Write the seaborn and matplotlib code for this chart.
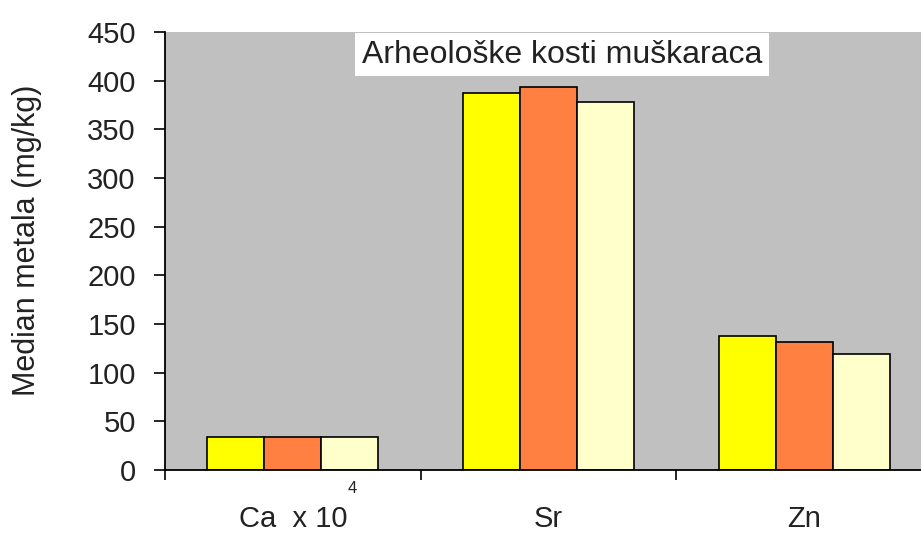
import pandas as pd
import matplotlib.pyplot as plt
import seaborn as sns

# data
categories = ['Ca  x 10', 'Sr', 'Zn']
series_names = ['Serija 1', 'Serija 2', 'Serija 3']
serija_1 = [34, 387, 138]
serija_2 = [34, 393, 131]
serija_3 = [34, 378, 119]
y_ticks = [0, 50, 100, 150, 200, 250, 300, 350, 400, 450]

df = pd.DataFrame({
    'metal': categories * 3,
    'serija': [s for s in series_names for _ in categories],
    'value': serija_1 + serija_2 + serija_3,
})

sns.set_theme(style="white")
plt.rcParams['font.family'] = ['Liberation Sans', 'DejaVu Sans']

fig = plt.figure(figsize=(9.21, 5.34), dpi=100)
ax = fig.add_axes([165 / 921, 64 / 534, 767 / 921, 438 / 534])
ax.set_facecolor('#c0c0c0')

sns.barplot(data=df, x='metal', y='value', hue='serija', order=categories,
            hue_order=series_names,
            palette=['#ffff00', '#ff8040', '#ffffcc'], saturation=1,
            width=0.67, gap=0, edgecolor='black', linewidth=1.2,
            legend=False, ax=ax)

ax.set_xlim(-0.5, 2.5)
ax.set_ylim(0, 450)
ax.set_yticks(y_ticks)
ax.set_xlabel('')
ax.set_ylabel('Median metala (mg/kg)', fontsize=22, color='#222222')
ax.yaxis.set_label_coords(-0.16, 0.525)

ax.tick_params(axis='y', direction='out', length=8, width=1.2, color='black',
               labelsize=21, labelcolor='#222222', left=True, pad=13)
ax.tick_params(axis='x', which='major', length=0, labelsize=21,
               labelcolor='#222222', pad=25)
ax.set_xticks([-0.5, 0.5, 1.5, 2.5], minor=True)
ax.tick_params(axis='x', which='minor', direction='out', length=7, width=1.2,
               color='black', bottom=True)

for side in ['top', 'right']:
    ax.spines[side].set_visible(False)
for side in ['left', 'bottom']:
    ax.spines[side].set_color('black')
    ax.spines[side].set_linewidth(1.3)

# superscript exponent of the Ca label
ax.annotate('4', xy=(0, 0), xycoords='data', xytext=(43, -13),
            textcoords='offset points', fontsize=12, color='#222222',
            ha='center', va='center', annotation_clip=False)

ax.text(0.5176, 0.948, 'Arheološke kosti muškaraca', transform=ax.transAxes,
        ha='center', va='center', fontsize=23, color='#222222',
        bbox=dict(boxstyle='square,pad=0.2', facecolor='white', edgecolor='none'))

plt.savefig('out.png', dpi=100)
